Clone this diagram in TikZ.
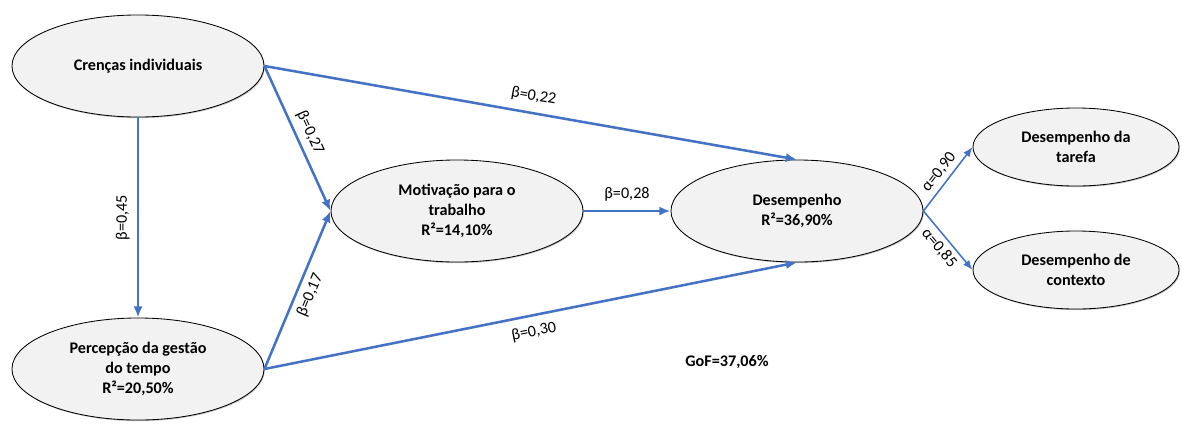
\documentclass[tikz,border=0pt]{standalone}
\usepackage{fontspec}
\setmainfont{Carlito}
\usepackage{tikz}
\usetikzlibrary{shapes,arrows,arrows.meta}
\usetikzlibrary{shadows}
\definecolor{azul}{HTML}{4472C4}
\definecolor{cinza}{HTML}{F2F2F2}

\begin{document}
\begin{tikzpicture}[x=0.025cm,y=-0.025cm,
   construto/.style={ellipse,draw=black,line width=0.6pt,fill=cinza,inner sep=0pt,align=center,
      font=\fontsize{11.5}{14}\selectfont\bfseries,minimum width=6.3cm,minimum height=2.55cm,
      drop shadow={shadow xshift=0.6pt,shadow yshift=-0.8pt,opacity=0.45}},
   dimensao/.style={construto,minimum width=5.15cm,minimum height=1.95cm},
   seta/.style={draw=azul,line width=1.8pt,-{Latex[length=8pt,width=6.5pt]}},
   setafina/.style={draw=azul,line width=1.1pt,-{Latex[length=7pt,width=5.5pt]}},
   coef/.style={font=\fontsize{11.5}{13}\selectfont,inner sep=1pt}]
   \useasboundingbox (0,0) rectangle (1182,423);
   % construtos
   \node[construto] (crencas) at (138,66) {Crenças individuais};
   \node[construto] (percepcao) at (138,369) {Percepção da gestão\\do tempo\\R²=20,50\%};
   \node[construto] (motivacao) at (457,211) {Motivação para o\\trabalho\\R²=14,10\%};
   \node[construto] (desempenho) at (797,211) {Desempenho\\R²=36,90\%};
   \node[dimensao] (tarefa) at (1076,147) {Desempenho da\\tarefa};
   \node[dimensao] (contexto) at (1076,270) {Desempenho de\\contexto};
   % caminhos
   \draw[seta] (crencas.south) -- (percepcao.north) node [coef,midway,left=4pt,rotate=90,anchor=south] {β=0,45};
   \draw[seta] (crencas.east) -- (motivacao.west) node [coef,midway,sloped,above=3pt] {β=0,27};
   \draw[seta] (percepcao.east) -- (motivacao.west) node [coef,midway,sloped,below=3pt] {β=0,17};
   \draw[seta] (crencas.east) -- (desempenho.north) node [coef,midway,sloped,above=5pt] {β=0,22};
   \draw[seta] (percepcao.east) -- (desempenho.south) node [coef,midway,sloped,below=5pt] {β=0,30};
   \draw[seta] (motivacao.east) -- (desempenho.west) node [coef,midway,above=5pt] {β=0,28};
   \draw[setafina] (desempenho.east) -- (tarefa.west) node [coef,midway,sloped,above=2pt] {α=0,90};
   \draw[setafina] (desempenho.east) -- (contexto.west) node [coef,midway,sloped,below=2pt] {α=0,85};
   \node[font=\fontsize{11.5}{13}\selectfont\bfseries] (gof) at (727,362) {GoF=37,06\%};
\end{tikzpicture}
\end{document}
